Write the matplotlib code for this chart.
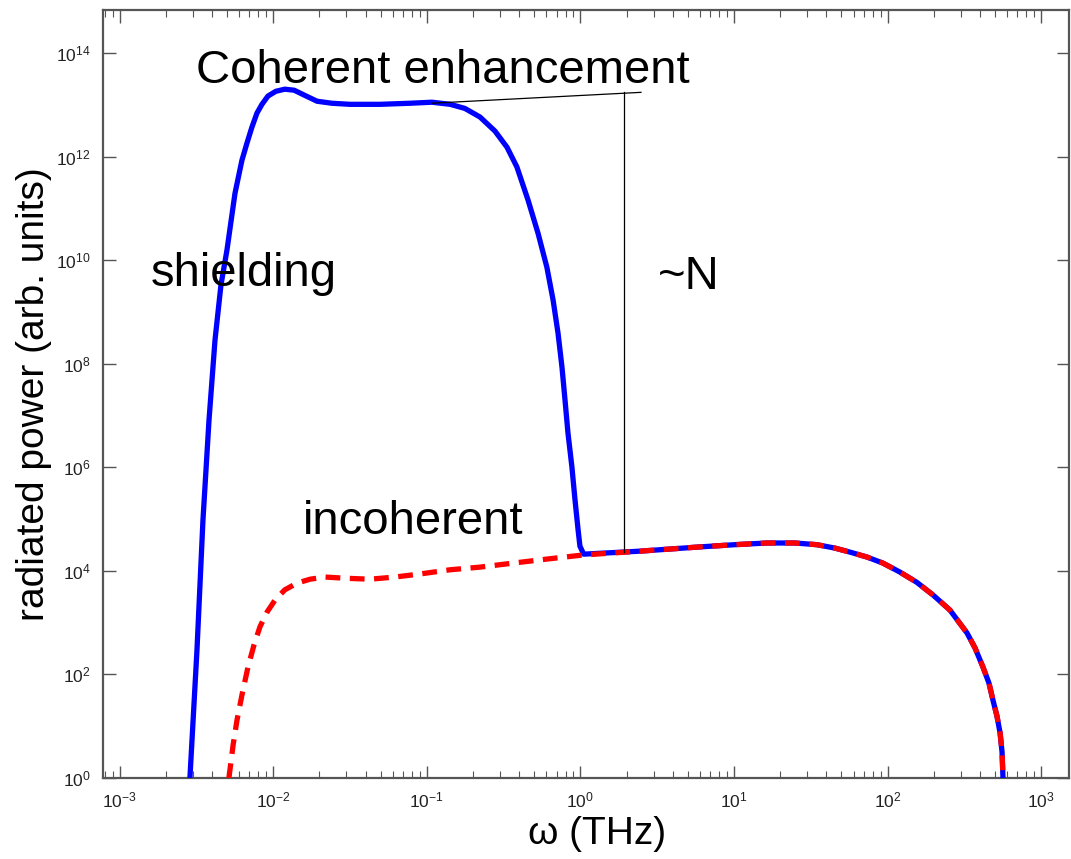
import numpy as np
import matplotlib
matplotlib.use("Agg")
import matplotlib.pyplot as plt

plt.rcParams["font.family"] = ["Liberation Sans", "DejaVu Sans"]
plt.rcParams["mathtext.fontset"] = "custom"
plt.rcParams["mathtext.rm"] = "Liberation Sans"
plt.rcParams["mathtext.it"] = "Liberation Sans:italic"
plt.rcParams["mathtext.bf"] = "Liberation Sans:bold"

# Coherent (bunched) spectrum below ~1 THz, where it departs from the incoherent one
omega_coh = [2.87e-3, 3.19e-3, 3.49e-3, 3.82e-3, 4.18e-3, 4.57e-3, 5.00e-3, 5.64e-3,
             6.26e-3, 6.75e-3, 7.27e-3, 7.84e-3, 8.45e-3, 9.24e-3, 0.0104, 0.0119,
             0.0137, 0.0159, 0.0193, 0.0241, 0.0316, 0.0495, 0.0777, 0.108,
             0.142, 0.177, 0.222, 0.278, 0.333, 0.386, 0.456, 0.530, 0.605,
             0.664, 0.715, 0.759, 0.794, 0.830, 0.881, 0.923, 0.966, 0.993, 1.05]
power_coh = [1.0, 2.96e2, 9.6e4, 8.1e6, 2.86e8, 3.3e9, 1.56e10, 1.95e11,
             8.5e11, 1.82e12, 3.7e12, 6.9e12, 1.02e13, 1.47e13, 1.82e13, 2.0e13,
             1.91e13, 1.54e13, 1.17e13, 1.07e13, 1.02e13, 1.02e13, 1.07e13, 1.12e13,
             1.02e13, 8.5e12, 5.8e12, 3.1e12, 1.51e12, 6.3e11, 1.45e11, 3.3e10, 7.3e9,
             1.7e9, 3.9e8, 8.5e7, 2.0e7, 4.6e6, 1.0e6, 2.3e5, 6.2e4, 3.0e4, 2.1e4]

# Incoherent spectrum over the full range
omega_inc = [5.15e-3, 5.48e-3, 5.81e-3, 6.26e-3, 6.85e-3, 7.50e-3, 8.20e-3, 9.12e-3,
             0.0103, 0.0119, 0.0143, 0.0174, 0.0217, 0.0294, 0.0427, 0.0621,
             0.0903, 0.142, 0.222, 0.364, 0.607, 1.05, 2.44, 6.00, 10.1, 16.4,
             24.9, 34.7, 45.4, 56.9, 73.3, 93.3, 120, 155, 198, 255, 329, 371,
             418, 457, 485, 515, 540, 556, 564]
power_inc = [1.0, 4.3, 13, 40, 138, 370, 830, 1.6e3,
             2.75e3, 4.3e3, 5.8e3, 6.9e3, 7.6e3, 7.2e3, 6.9e3, 7.6e3,
             8.7e3, 1.05e4, 1.18e4, 1.41e4, 1.69e4, 2.03e4, 2.4e4, 2.9e4, 3.2e4, 3.45e4,
             3.45e4, 3.2e4, 2.75e4, 2.3e4, 1.85e4, 1.41e4, 9.5e3, 6.0e3, 3.4e3, 1.74e3, 630, 324,
             138, 68, 32, 15.8, 7.4, 3.2, 1.0]

y_ticks = [1e0, 1e2, 1e4, 1e6, 1e8, 1e10, 1e12, 1e14]

# Total spectrum: coherent part, then it merges with the incoherent curve
omega_coh = np.array(omega_coh)
power_coh = np.array(power_coh)
omega_inc = np.array(omega_inc)
power_inc = np.array(power_inc)
tail = omega_inc > omega_coh[-1]
omega_tot = np.concatenate([omega_coh, omega_inc[tail]])
power_tot = np.concatenate([power_coh, power_inc[tail]])

W, H = 1071, 859
fig = plt.figure(figsize=(W / 100, H / 100), dpi=100)
ax = fig.add_axes([103 / W, 1 - 778 / H, (1069 - 103) / W, (778 - 10) / H])

ax.plot(omega_tot, power_tot, color="#0000ff", lw=3.8, solid_joinstyle="round",
        solid_capstyle="butt", zorder=3)
ax.plot(omega_inc, power_inc, color="#ff0000", lw=3.8, dashes=(2.8, 1.8),
        dash_capstyle="butt", dash_joinstyle="round", zorder=4)

ax.set_xscale("log")
ax.set_yscale("log")
ax.set_xlim(10 ** -3.108, 10 ** 3.181)
ax.set_ylim(1.0, 10 ** 14.83)
ax.set_yticks(y_ticks)
ax.yaxis.set_minor_locator(matplotlib.ticker.NullLocator())

ax.tick_params(which="both", direction="in", top=True, right=True,
               labelsize=12.5, labelcolor="#222222", color="#555555")
ax.tick_params(which="major", length=9, width=1.0, pad=9)
ax.tick_params(which="minor", length=5, width=0.8)
for sp in ax.spines.values():
    sp.set_color("#555555")
    sp.set_linewidth(1.6)

ax.set_xlabel("ω (THz)", fontsize=28, labelpad=4)
ax.xaxis.label.set_x((597 - 103) / 966)
ax.set_ylabel("radiated power (arb. units)", fontsize=28, labelpad=3)

# Annotations
ax.plot([0.108, 2.48], [10 ** 13.03, 10 ** 13.24], color="black", lw=0.9, zorder=5)
ax.plot([1.92, 1.92], [10 ** 4.37, 10 ** 13.24], color="black", lw=0.9, zorder=5)
ax.text(3.14e-3, 10 ** 13.42, "Coherent enhancement", fontsize=34, ha="left",
        va="baseline")
ax.text(1.6e-3, 10 ** 9.5, "shielding", fontsize=34, ha="left", va="baseline")
ax.text(3.2, 10 ** 9.45, "~N", fontsize=34, ha="left", va="baseline")
ax.text(0.0155, 10 ** 4.72, "incoherent", fontsize=34, ha="left", va="baseline")

fig.savefig("out.png", dpi=100)
